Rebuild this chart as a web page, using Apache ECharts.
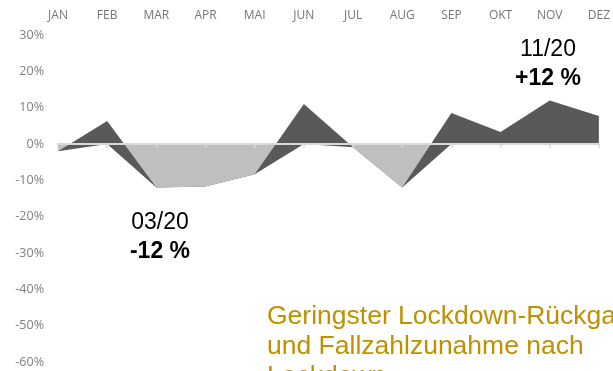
<!DOCTYPE html>
<html>
<head>
<meta charset="utf-8">
<script src="https://cdn.jsdelivr.net/npm/echarts@6/dist/echarts.min.js"></script>
<style>
  html, body { margin: 0; padding: 0; background: #ffffff; }
  #chart { width: 613px; height: 371px; }
</style>
</head>
<body>
<div id="chart"></div>
<script>
// Monthly change in %, 2020
const months = ['JAN', 'FEB', 'MAR', 'APR', 'MAI', 'JUN', 'JUL', 'AUG', 'SEP', 'OKT', 'NOV', 'DEZ'];
const change = [-2, 6.3, -12, -11.7, -8.3, 11, -0.9, -12, 8.5, 3.3, 12, 7.7];
// value axis range and step (percent)
const yMin = -60;
const yMax = 30;
const yStep = 10;

// Negative-only helper series: min(value, 0) per month
const negPart = change.map(v => Math.min(v, 0));

const DARK = '#595959';
const LIGHT = '#bfbfbf';
const LABEL_FONT = 'Open Sans';
const NOTE_FONT = 'Liberation Sans';

const chart = echarts.init(document.getElementById('chart'), null, { renderer: 'canvas' });

chart.setOption({
  animation: false,
  backgroundColor: '#ffffff',
  grid: { left: 58, right: 11, top: 35, bottom: 9, containLabel: false },
  xAxis: [
    {
      // month labels along the top
      type: 'category',
      data: months,
      position: 'top',
      boundaryGap: false,
      axisLine: { show: false, onZero: false },
      axisTick: { show: false },
      splitLine: { show: false },
      axisLabel: {
        color: '#767676',
        fontFamily: LABEL_FONT,
        fontSize: 12,
        margin: 13,
        interval: 0
      }
    },
    {
      // zero line with month ticks
      type: 'category',
      data: months,
      position: 'bottom',
      boundaryGap: false,
      z: 10,
      axisLine: { show: true, onZero: true, lineStyle: { color: '#d9d9d9', width: 2 } },
      axisTick: { show: true, length: 4, interval: 0, lineStyle: { color: '#d9d9d9', width: 1.5 } },
      axisLabel: { show: false },
      splitLine: { show: false }
    }
  ],
  yAxis: {
    type: 'value',
    min: yMin,
    max: yMax,
    interval: yStep,
    axisLine: { show: false },
    axisTick: { show: false },
    splitLine: { show: false },
    axisLabel: {
      formatter: '{value}%',
      color: '#808080',
      fontFamily: LABEL_FONT,
      fontSize: 12.5,
      margin: 14
    }
  },
  visualMap: {
    show: false,
    type: 'piecewise',
    seriesIndex: 1,
    dimension: 1,
    pieces: [
      { min: yMin, max: 0, color: LIGHT },
      { min: 0, max: yMax, color: DARK }
    ]
  },
  series: [
    {
      name: 'neg',
      type: 'line',
      xAxisIndex: 1,
      data: negPart,
      symbol: 'none',
      lineStyle: { width: 0 },
      areaStyle: { color: DARK, opacity: 1 },
      z: 2
    },
    {
      name: 'change',
      type: 'line',
      xAxisIndex: 1,
      data: change,
      symbol: 'none',
      lineStyle: { width: 0 },
      areaStyle: { opacity: 1 },
      z: 3
    }
  ],
  graphic: [
    {
      type: 'text', x: 548, y: 50,
      style: { text: '11/20', font: '23px "' + NOTE_FONT + '"', fill: '#000', textAlign: 'center', textVerticalAlign: 'middle' }
    },
    {
      type: 'text', x: 548, y: 79,
      style: { text: '+12 %', font: 'bold 23px "' + NOTE_FONT + '"', fill: '#000', textAlign: 'center', textVerticalAlign: 'middle' }
    },
    {
      type: 'text', x: 160, y: 223,
      style: { text: '03/20', font: '23px "' + NOTE_FONT + '"', fill: '#000', textAlign: 'center', textVerticalAlign: 'middle' }
    },
    {
      type: 'text', x: 160, y: 252,
      style: { text: '-12 %', font: 'bold 23px "' + NOTE_FONT + '"', fill: '#000', textAlign: 'center', textVerticalAlign: 'middle' }
    },
    {
      type: 'text', x: 267, y: 302,
      style: {
        text: 'Geringster Lockdown-Rückgang\nund Fallzahlzunahme nach\nLockdown',
        font: '26.5px "' + NOTE_FONT + '"',
        lineHeight: 30,
        fill: '#bf9000',
        textAlign: 'left',
        textVerticalAlign: 'top'
      }
    }
  ]
});
</script>
</body>
</html>
